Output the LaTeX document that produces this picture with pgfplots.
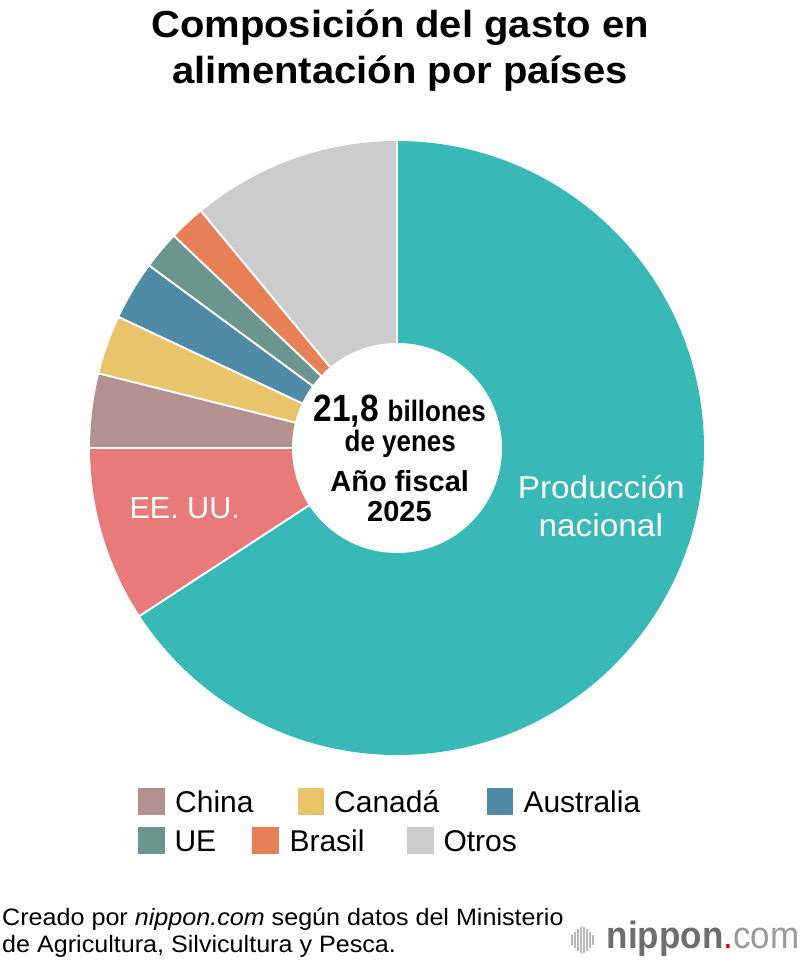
\documentclass[border=0pt]{standalone}
\usepackage{pgfplots}
\pgfplotsset{compat=1.18}
\usepackage{pgfplotstable}
\usepackage{fontspec}
\setmainfont{Liberation Sans}
\newfontfamily\wide{Liberation Sans}[FakeStretch=1.06]
\newfontfamily\cond{Liberation Sans}[FakeStretch=0.88]
\newfontfamily\logofont{Liberation Sans}[FakeStretch=0.92]

\definecolor{cprod}{HTML}{38B9B8}
\definecolor{cusa}{HTML}{E87B7A}
\definecolor{cchina}{HTML}{B4908E}
\definecolor{ccanada}{HTML}{E9C46B}
\definecolor{caus}{HTML}{4F8AA6}
\definecolor{ceu}{HTML}{6B958F}
\definecolor{cbra}{HTML}{E88057}
\definecolor{cotros}{HTML}{CCCCCC}
\definecolor{logogray}{HTML}{6E6E6E}
\definecolor{logolight}{HTML}{9A9A9A}
\definecolor{logored}{HTML}{E60012}

% share of food spending (%), clockwise from the top
\pgfplotstableread{
val col
65.8 cprod
9.2 cusa
3.9 cchina
3.1 ccanada
3.1 caus
2.0 ceu
1.9 cbra
11.0 cotros
}\slices

\begin{document}
\begin{tikzpicture}[x=1pt,y=1pt]
\path[use as bounding box] (0,0) rectangle (800,964);

\begin{axis}[
  at={(397pt,516pt)}, anchor=center,
  width=614pt, height=614pt, scale only axis,
  xmin=-1, xmax=1, ymin=-1, ymax=1,
  hide axis, clip=false]
\pgfplotstablegetrowsof{\slices}
\pgfmathtruncatemacro\N{\pgfplotsretval-1}
\gdef\cum{90}
\pgfplotsforeachungrouped \i in {0,...,\N}{%
  \pgfplotstablegetelem{\i}{val}\of\slices \let\v\pgfplotsretval
  \pgfplotstablegetelem{\i}{col}\of\slices \let\c\pgfplotsretval
  \pgfmathsetmacro\a{\cum}%
  \pgfmathsetmacro\b{\cum-3.6*\v}%
  \edef\temp{\noexpand\fill[\c] (axis cs:0,0) -- ++(\a:307pt) arc[start angle=\a, end angle=\b, radius=307pt] -- cycle;}%
  \temp
  \xdef\cum{\b}%
}
\gdef\cum{90}
\pgfplotsforeachungrouped \i in {0,...,\N}{%
  \pgfplotstablegetelem{\i}{val}\of\slices \let\v\pgfplotsretval
  \pgfmathsetmacro\a{\cum}%
  \pgfmathsetmacro\b{\cum-3.6*\v}%
  \edef\temp{\noexpand\draw[white, line width=2pt] (axis cs:0,0) -- ++(\a:309pt);}%
  \temp
  \xdef\cum{\b}%
}
\fill[white] (axis cs:0,0) circle[radius=105pt];
\end{axis}

% title
\node[anchor=base] at (400,926.7) {\wide\bfseries\fontsize{37.7}{46}\selectfont Composición del gasto en};
\node[anchor=base] at (400,880.7) {\wide\bfseries\fontsize{37.7}{46}\selectfont alimentación por países};

% centre text
\node[anchor=base] at (399.7,542.3) {\cond\bfseries\fontsize{38}{40}\selectfont 21,8\hspace{9pt}\fontsize{29.5}{30}\selectfont billones};
\node[anchor=base] at (400.3,512.3) {\cond\bfseries\fontsize{29.5}{30}\selectfont de yenes};
\node[anchor=base] at (399.7,472.3) {\bfseries\fontsize{29}{30}\selectfont Año fiscal};
\node[anchor=base] at (399.5,442.3) {\bfseries\fontsize{29}{30}\selectfont 2025};

% slice labels
\node[anchor=base, white] at (601.3,465.7) {\wide\fontsize{31.5}{32}\selectfont Producción};
\node[anchor=base, white] at (600.8,427.3) {\wide\fontsize{31.5}{32}\selectfont nacional};
\node[anchor=base, white] at (184.7,445) {\fontsize{30.5}{32}\selectfont EE. UU.};

% legend
\newcommand\legitem[5]{%
  \fill[#1] (#2,#3) rectangle ++(26.7,26.5);
  \node[anchor=base west, inner sep=0pt] at (#4,#3+2.5) {\fontsize{30}{32}\selectfont #5};}
\legitem{cchina}{138.3}{149}{175}{China}
\legitem{ccanada}{297.7}{149}{334}{Canadá}
\legitem{caus}{486.7}{149}{523.3}{Australia}
\legitem{ceu}{138.3}{110}{174.3}{UE}
\legitem{cbra}{252.3}{110}{289.3}{Brasil}
\legitem{cotros}{407.3}{110}{443.3}{Otros}

% source
\node[anchor=base west, inner sep=0pt] at (2,38) {\wide\fontsize{23.7}{27}\selectfont Creado por \textit{nippon.com} según datos del Ministerio};
\node[anchor=base west, inner sep=0pt] at (2,11) {\wide\fontsize{23.7}{27}\selectfont de Agricultura, Silvicultura y Pesca.};

% logo
\foreach \xx/\hh in {572/10,575/16,578/22,581/26,584/26,587/22,590/16,593/10}{
  \draw[logolight!70, line width=1.3pt] (\xx,24-\hh/2) -- (\xx,24+\hh/2);}
\node[anchor=base west, inner sep=0pt] at (606.7,15.7) {\logofont\fontsize{38}{40}\selectfont{\bfseries\color{logogray}nippon}{\color{logored}.}{\color{logolight}com}};
\end{tikzpicture}
\end{document}
